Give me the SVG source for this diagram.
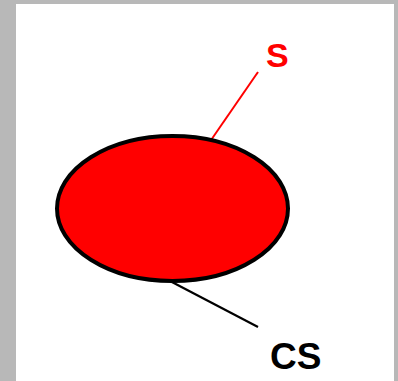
<svg xmlns="http://www.w3.org/2000/svg" width="398" height="381" viewBox="0 0 398 381">
<style>
.lbl{font-family:"Liberation Sans",Arial,sans-serif;font-weight:bold}
</style>
<rect x="0" y="0" width="398" height="381" fill="#b8b8b8"/>
<rect x="16" y="4" width="378" height="377" fill="#ffffff"/>
<g id="connectors">
<line x1="209" y1="143" x2="258" y2="72" stroke="#ff0000" stroke-width="2"/>
<line x1="170" y1="281" x2="258" y2="327" stroke="#000000" stroke-width="2.2"/>
</g>
<g id="node-ellipse">
<ellipse cx="172.5" cy="208.5" rx="115.5" ry="72.5" fill="#ff0000" stroke="#000000" stroke-width="4"/>
</g>
<g id="label-S">
<text class="lbl" x="266" y="67" font-size="34" fill="#ff0000">S</text>
</g>
<g id="label-CS">
<text class="lbl" x="270" y="369" font-size="37" fill="#000000">CS</text>
</g>
</svg>
